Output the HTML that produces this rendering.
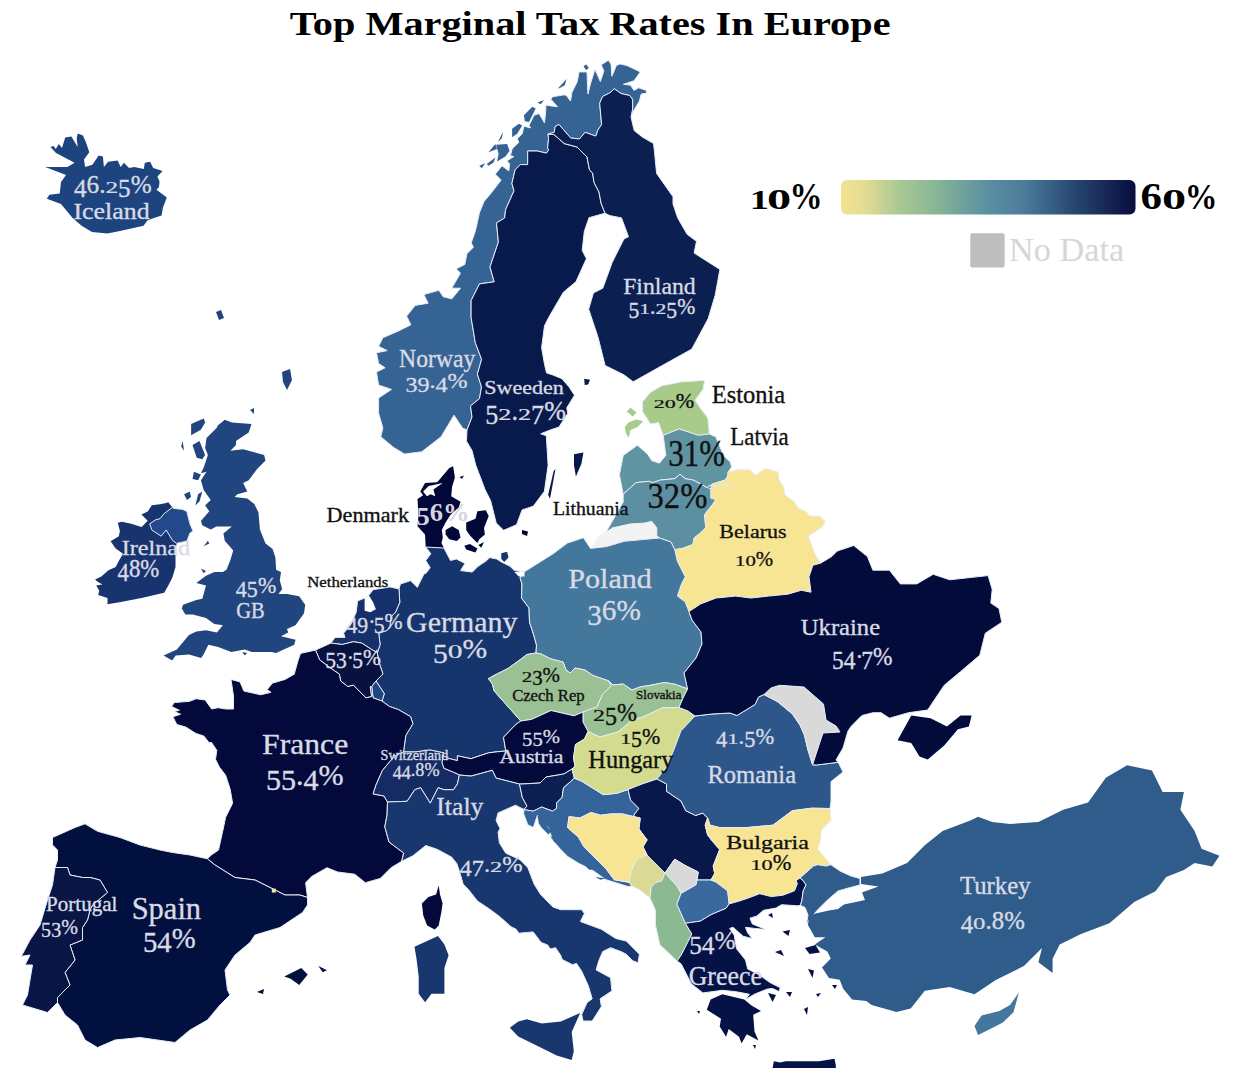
<!DOCTYPE html>
<html><head><meta charset="utf-8"><style>
html,body{margin:0;padding:0;background:#fff;}
svg{display:block;font-family:"Liberation Serif",serif;}
</style></head><body>
<svg width="1240" height="1068" viewBox="0 0 1240 1068">
<rect width="1240" height="1068" fill="#fff"/>

<defs><linearGradient id="g" x1="0" x2="1" y1="0" y2="0">
<stop offset="0" stop-color="#f4e28f"/>
<stop offset="0.08" stop-color="#e3dc92"/>
<stop offset="0.2" stop-color="#a9c894"/>
<stop offset="0.3" stop-color="#8dba95"/>
<stop offset="0.5" stop-color="#5a8fa2"/>
<stop offset="0.62" stop-color="#4c7c9b"/>
<stop offset="0.78" stop-color="#2a4a75"/>
<stop offset="1" stop-color="#080c3c"/>
</linearGradient></defs>
<rect x="841" y="180" width="294.5" height="34.5" rx="6" fill="url(#g)"/>
<rect x="970.3" y="233.2" width="34.3" height="34.3" rx="2" fill="#bebebe"/>


<polygon points="50.5,147 53.6,146 55.7,149.1 58.9,143.9 62,148.1 65.2,137.6 71.4,136.5 77.7,147 76.7,138.6 77.7,133.4 83,135.5 86.1,142.8 89.3,152.3 84,159.6 85.1,166.9 92.4,164.8 98.7,155.4 102.9,156.4 103.9,166.9 108.1,161.7 117.6,160.6 120.7,166.9 123.9,162.7 129.1,168 134.3,166.9 143.8,169 144.8,162.7 150.1,161.7 153.2,168 162.6,171.1 157.4,176.4 159.5,181.6 159,187 156.5,189.7 166.8,197.4 162.9,207.7 161.6,215.5 153.9,218 147.4,220.6 143.5,225.8 120,231 107.4,233.5 92,232 81.6,225.8 72.6,218 61,203.9 46.8,198.7 49.4,194.8 59.7,193.5 61,182 66,175 45.2,166.9 67.3,166.9 74.6,162.7 56,153" fill="#1d447f"/>
<polygon points="141.5,514.6 147.7,511.5 151.8,505.3 160,504.3 165.2,503.2 168.3,502.2 172.4,507.4 173.4,508.4 182.7,509.4 186.8,511.5 189.9,523.8 193,531 189.9,533.1 186.8,541.3 180.6,542.4 176.5,543.4 175.5,551.6 175.5,567.1 172.4,577.4 168.3,585.6 164.2,592.8 141.5,598 120.9,602.1 107.5,604.2 107.5,598 98.2,594.9 99.3,590.8 96.2,585.6 102.4,584.6 97.2,581.5 95.1,579.5 101.3,576.4 108.5,570.2 115.7,567.1 118.8,560.9 123,553.7 115.7,548.6 110.6,541.3 118.8,536.2 119.9,531 117.8,522.8 121.9,521.8 131.2,523.8 141.5,526.9 143.6,524.9 147.7,520.7" fill="#17346f"/>
<polygon points="172.4,507.4 173.4,508.4 182.7,509.4 186.8,511.5 189.9,523.8 193,531 189.9,533.1 186.8,541.3 180.6,542.4 176.5,543.4 172.4,540.3 166.2,530 161.1,536.2 151.8,530 149.7,523.8 155.9,519.7 160,518.7 164.2,513.5" fill="#24498a" stroke="#e6ecf7" stroke-width="1" stroke-linejoin="round"/>
<polygon points="224.8,419.8 231.8,422.6 251.5,424.1 248.7,432.5 236,440.9 236,445.1 230.4,450.7 243.1,449.3 264.1,455 265.5,460.6 257.1,469 248.7,480.3 243.1,483.1 247.3,491.5 237.4,494.3 234.6,497.1 247.3,498.5 254.3,504.1 258.5,512.6 259.9,529.4 265.5,543.5 272.6,549.1 275.4,557.5 276.1,569.7 281,572.1 279.8,580.6 282.2,589 278.5,593.9 287,593.9 299.1,596.3 305.2,604.8 304,613.2 295.5,625.3 287,629 288.2,632.6 281,636.2 295.5,639.8 294.3,644.7 276.1,653.1 271.3,651.9 251.9,651.9 244.7,649.5 231.4,651.9 218.1,647.1 208.4,644.7 203.5,654.4 201.1,658 189,654.4 175.7,655.6 172.1,660.4 163.6,655.6 176.9,649.5 189,635 196.3,631.4 206,630.2 216.9,632.6 222.9,625.3 214.4,624.1 206,618.1 192.7,614.4 185.4,614.4 181.8,608.4 183,604.8 196.3,599.9 202.3,598.7 206,585.4 196.3,583 206,575.7 214.4,572.1 222.9,572.1 226.5,569.7 230.4,560 233.2,550.5 224.8,540.7 223.4,533.6 231.8,526.6 216.4,526.6 210.7,529.4 202.3,525.2 200.9,521 209.3,511.2 205.1,505.5 210.7,499.9 203.7,490.1 200.9,480.3 206.5,471.8 200.9,473.2 203.7,467.6 207.9,455 205.1,447.9 206.5,438.1 216.4,428.3 217.8,425.5" fill="#21467f"/>
<polygon points="191.1,424.1 203.7,418.4 205.1,422.6 200.9,429.7 191.1,435.3" fill="#21467f"/>
<polygon points="181.2,446.5 182.6,440.9 184.1,450.7" fill="#21467f"/>
<polygon points="192.5,445.1 199.5,440.9 205.1,455 202.3,459.2 196.7,457.8" fill="#21467f"/>
<polygon points="193.9,471.8 200.9,474.6 198.1,480.3 192.5,478.9" fill="#21467f"/>
<polygon points="195.3,505.5 198.1,494.3 202.3,491.5 199.5,501.3" fill="#21467f"/>
<polygon points="184.1,494.3 189.7,491.5 191.1,497.1 186.9,499.9" fill="#21467f"/>
<polygon points="203.7,546.3 207.9,540.7 209.3,543.5" fill="#21467f"/>
<polygon points="201.1,568.5 206,570.9 203.5,573.3" fill="#21467f"/>
<polygon points="242.3,651.9 247.1,653.1 244.7,655.6" fill="#21467f"/>
<polygon points="282,372 290,369 292,380 287,390 283,382" fill="#21467f"/>
<polygon points="250,410 254,408 254,414" fill="#21467f"/>
<polygon points="216,312 221,310 224,318 219,320" fill="#21467f"/>
<polygon points="631,117 633,111.8 639.4,101.1 641.2,94 646.5,93.2 646.5,90.5 638.5,87.8 634.1,90.5 630.5,85.2 623.4,84.3 634.1,80.7 640.3,71.9 627,65.6 619.9,63.9 616.3,65.6 611.9,76.3 611,63.9 608.3,60.3 601.2,64.8 603.9,71 600.3,81.6 595,69.2 590.6,83.4 587.9,94 587,71.9 579,71.9 577.3,81.6 572,92.3 570.5,101 566,95 562.7,95.1 552.6,96.7 550.9,99.3 557.6,106.8 545.8,105.2 545.8,110.2 544.5,123 539.1,113.6 534,115.3 529,125.4 530.7,127.9 523.9,126.2 522.2,133.8 517.2,138.9 518.9,142.2 512.1,149 510.4,155.7 513.8,156.6 507.1,160.8 509.6,164.1 508.8,170.9 502,165.8 495.3,174.2 501.2,180 492,192 484,201.6 479.5,212.6 475.3,231.4 471.2,242.9 473.4,247.2 466.9,253.7 464.8,264.5 456.2,268.8 460.5,273.1 451.8,288.2 460.5,288.2 451.8,298.9 443.2,296.8 438.9,290.3 423.8,294.6 428.2,303.2 415.2,305.4 406.6,316.2 410.9,324.8 398,331.2 382.9,337.7 378.6,346.3 387.2,350.6 376.5,352.8 378.6,363.5 385.1,367.8 376.5,372.1 378.6,385.1 391.5,389.4 378.6,398 378.6,413.1 382.9,428.1 380.8,436.8 393.7,447.5 404.5,454 421.7,451.8 441.1,436.8 454,415.2 462.6,428.1 467,430 472,417 470.5,406 479.5,398.6 481.5,387 477.4,374 481.6,359.3 475.3,342.6 471.1,317.4 471.1,300.6 479.5,283.9 494.2,281.8 490,267 498.4,242 496.5,223 504.6,218 505.6,209.7 514,190.8 511.9,183.5 515.1,169.8 520.3,164.6 527.7,164.6 527.7,151 537.1,151 546.5,153.1 548.6,149.9 547.6,147.8 548.6,138.4 548,134 554.2,132.3 555.2,126.5 559,124.5 570.7,138 579.4,139 585.2,132.3 595.8,136.1 597.8,130.3 601.6,124.5 599.7,103.2 602.6,96.5 610.3,92.6 614.2,88.7 621,93.5 629.7,95.5 632.6,99.4 632.6,109 631,117" fill="#356394" stroke="#e6ecf7" stroke-width="1" stroke-linejoin="round"/>
<polygon points="523.9,115.3 532.3,106.8 535.7,108.5 529,122 524.8,121.2" fill="#356394"/>
<polygon points="512.1,128.8 518.9,123.7 522.2,125.4 517.2,133.8 512.1,137.2" fill="#356394"/>
<polygon points="497.8,142.2 502.9,132.1 502,138" fill="#356394"/>
<polygon points="488.5,152.3 495.3,143.9 497,149" fill="#356394"/>
<polygon points="496.1,144.8 507.1,143.9 509.6,150.7 505.4,156.6 497,161.6 498.6,154" fill="#356394"/>
<polygon points="479.3,165.8 485.2,163.3 481.8,168.3" fill="#356394"/>
<polygon points="486.8,164.1 495.3,157.4 493.6,162.5 488.5,165.8" fill="#356394"/>
<polygon points="537.4,102.6 544.1,100.1 540.8,104.3" fill="#356394"/>
<polygon points="583.5,66.5 586.1,64.3 588.8,67.9 586.1,70.1" fill="#356394"/>
<polygon points="557.7,88.7 566.6,79 564.8,85.2 560.4,87.8" fill="#356394"/>
<polygon points="605,213.2 589,217.7 584.3,231.4 582.2,250.3 586.4,258.7 575.9,281.8 563.4,292.2 548.7,317.4 544.5,325.8 541.6,347.7 544.5,364.2 546.5,372.9 552.3,374.8 556.1,376.3 561.9,378.7 568.7,386.5 574.5,395.2 566.8,407.8 567.7,413.6 561.9,422.3 559,427.1 550,430.1 540.7,433.8 546.3,435.7 548.1,465.3 544.4,491.3 533.3,506.2 522.1,509.9 516.6,524.7 503.6,530.3 496.2,522.9 490.6,500.6 485,489.5 475.8,465.3 472,450.5 466.5,441.2 467,430 472,417 470.5,406 479.5,398.6 481.5,387 477.4,374 481.6,359.3 475.3,342.6 471.1,317.4 471.1,300.6 479.5,283.9 494.2,281.8 490,267 498.4,242 496.5,223 504.6,218 505.6,209.7 514,190.8 511.9,183.5 515.1,169.8 520.3,164.6 527.7,164.6 527.7,151 537.1,151 546.5,153.1 548.6,149.9 547.6,147.8 548.6,138.4 548,134 554,134.5 564.3,143.6 577,147 587,157 589.5,170 592.6,173 594,182.4 599,192 601,203 605,213.2" fill="#081a4b" stroke="#e6ecf7" stroke-width="1" stroke-linejoin="round"/>
<polygon points="548,134 554,134.5 564.3,143.6 577,147 587,157 589.5,170 592.6,173 594,182.4 599,192 601,203 605,213.2 609.8,215.6 621.5,217.9 628.5,236.7 623.9,239 612.2,262.4 602.8,288.2 593.4,292.9 588.7,309.2 598.1,337.4 605.1,365.5 623.9,374.8 633.2,381.8 670.7,360.8 691.8,349.1 708.2,318.6 715.2,295.2 719.9,269.4 694.1,253 696.5,241.3 687.1,234.3 677.7,217.9 673,203.9 673,196.8 656.6,173.4 654.3,150 653.5,143.5 642.3,137 634.2,130.6 631,117 632.6,109 632.6,99.4 629.7,95.5 621,93.5 614.2,88.7 610.3,92.6 602.6,96.5 599.7,103.2 601.6,124.5 597.8,130.3 595.8,136.1 585.2,132.3 579.4,139 570.7,138 559,124.5 555.2,126.5 554.2,132.3 548,134" fill="#0c1f51" stroke="#e6ecf7" stroke-width="1" stroke-linejoin="round"/>
<polygon points="584.2,378.7 590,379.7 588.1,384.5 584.7,385" fill="#081a4b"/>
<polygon points="574,454.2 583.4,452.4 581.5,463.5 575.9,476.5 574,465.3" fill="#081a4b"/>
<polygon points="553.7,470.9 555.5,469 550,498.7 548.1,495" fill="#081a4b"/>
<polygon points="453.1,466.2 454.9,477.5 452.1,486.8 451.2,496.2 460.6,501.8 458.7,507.4 450.3,514.9 445.6,522.4 441.8,529.9 442.8,537.4 441.5,543 444,548 425.7,547 425,534.6 417.5,526.2 418.4,515.9 417.5,499 423.1,495.3 420.3,491.5 425,483.1 437.2,482.2 449.3,468.1" fill="#02073a"/>
<polygon points="445.6,529.9 452.1,526.2 458.7,529.9 460.6,537.4 456.8,541.1 449.3,539.3 445.6,534.6" fill="#02073a"/>
<polygon points="466.2,522.4 475.5,518.7 477.4,511.2 485.8,510.2 488.7,515.9 484,528 484.9,534.6 479.3,539.3 477.4,543 469.9,535.5 466.2,529.9" fill="#02073a"/>
<polygon points="464.3,545.8 469.9,544 477.4,548.6 475.5,552.4 466.2,549.6" fill="#02073a"/>
<polygon points="478.4,544.9 484,542.1 481.2,547.7" fill="#02073a"/>
<polygon points="459.5,477 464,475.5 462,479" fill="#02073a"/>
<polygon points="522,530 528,531.5 527,536 522,534" fill="#02073a"/>
<polygon points="423.1,491.5 428.7,485.9 442.8,483.1 433.4,489.6 435.3,496.2 430.6,494.3 426.9,496.2" fill="#fff"/>
<polygon points="642.5,401.8 650.5,392.3 661.7,385.9 680.8,381.9 704.6,380.4 703.1,389.1 695.1,400.3 701.5,409.8 707.8,417.8 709.4,434 698.3,435.3 679.2,428.9 663.2,435.3 658.5,422.5 650.5,424.1 642.5,411.4" fill="#a8cb8a" stroke="#e6ecf7" stroke-width="1" stroke-linejoin="round"/>
<polygon points="624.8,427.1 628.7,422.3 636.5,419.4 643.2,421.3 637.4,427.1 630.6,430 628.7,437.8 625.8,433" fill="#a8cb8a"/>
<polygon points="626.8,411.6 630.6,407.8 636.5,412.6 632.6,416.5" fill="#a8cb8a"/>
<polygon points="663.2,435.3 679.2,428.9 698.3,435.3 709.4,434 715.8,436.9 723.8,456 730.3,461.9 731.6,467.1 728.2,471.9 727.7,476.1 725.2,480 712.5,484 707.1,487.7 700.6,483.9 692.9,480 685.2,478.7 680,474.2 674.8,478.7 660.6,480 652.9,482.6 649,481.3 636.1,482.6 623.2,494.2 619.4,474.8 623.2,455.5 637.4,445.2 647.7,454.2 651.6,460.6 659.4,463.2 665.8,455.5 664.5,445" fill="#6194a1" stroke="#e6ecf7" stroke-width="1" stroke-linejoin="round"/>
<polygon points="623.2,494.2 636.1,482.6 649,481.3 652.9,482.6 660.6,480 674.8,478.7 680,474.2 685.2,478.7 692.9,480 700.6,483.9 707.1,487.7 712.5,484 711,489 711,498 716,499.4 713.5,503.2 704.5,514.8 705.8,527.7 702,531.6 694.2,538 692.9,544.5 682.6,548.4 674.8,549.7 671,542 659.4,538 612,528 630,524 645,523 651.6,521.3 656.8,527.7 656.8,535.5 659.4,538 624.2,541.3 606.5,546.6 601,541 623.2,502" fill="#5c8fa1" stroke="#e6ecf7" stroke-width="1" stroke-linejoin="round"/>
<polygon points="598,536 612,528 630,524 645,523 651.6,521.3 656.8,527.7 656.8,535.5 659.4,538 624.2,541.3 606.5,546.6 590.5,548.4" fill="#f3f3f4"/>
<polygon points="728.2,471.9 738.4,469.7 749.7,469.7 755.3,475.3 765.5,468.5 777.9,471.9 779,479.8 783.6,486.6 784.7,494.5 794.8,502.4 798.2,508.1 806.1,511.5 809.5,516 819.7,516 825.3,521.6 821.9,527.3 808.4,536.3 809,538 814.8,553.5 820.6,563.2 812.9,565.2 809,576.8 811,592.2 801.3,590.3 787.7,594.2 768.4,596.1 751,598 735.5,596.1 716.1,598 700.6,603.9 689,611.6 685.2,601.9 677.4,596.1 681.3,584.5 685.2,576.8 677.4,561.3 674.8,549.7 682.6,548.4 692.9,544.5 694.2,538 702,531.6 705.8,527.7 704.5,514.8 713.5,503.2 716,499.4 711,498 711,489 712.5,484 725.2,480 727.7,476.1" fill="#f8e594" stroke="#e6ecf7" stroke-width="1" stroke-linejoin="round"/>
<polygon points="425.7,547 444,548 450.5,560.5 456.3,559 465,563.4 460.6,570.6 472.3,572.1 478.1,566.3 486.8,560.5 489.7,557.6 496.9,559 501.3,561.9 510,566.3 514.4,570.6 524,572 520,578 522,584 521.5,598 529,608 529.5,622 534,636 536.5,645 536,653 527,654.5 520,659.8 508,668.5 495,675 488.5,678.6 492.4,684 494.2,691 508.4,707 520.8,721 515.5,724.7 503.5,737.3 505.8,751 496.1,751.9 488.4,752.9 471,758.7 457.4,755.8 457.4,760.6 449.7,758.7 443,756 443.9,752.9 430,750 415,752 403.5,751.8 405.8,735.4 412.9,723.7 410.5,716.6 398.4,709.6 389.5,706.5 382,701 384.3,693.6 381.5,689.4 376,681 382.9,674 378.7,661.3 377.3,652.9 380.1,644.5 378.7,633.2 387.1,630.4 389.9,626.2 391.3,616.4 395.5,612.2 399.8,602.3 399,589 400.4,584 410.5,580.7 417.3,587.4 424,573.9 425.8,573.5 430.2,567.7 425.8,560.5 430.8,553.7" fill="#16356d" stroke="#e6ecf7" stroke-width="1" stroke-linejoin="round"/>
<polygon points="501.3,553.2 507.1,551.8 508.5,557.6 504.2,561.9 501.3,559" fill="#16356d"/>
<polygon points="399,589 399.8,602.3 395.5,612.2 391.3,616.4 389.9,626.2 387.1,630.4 378.7,633.2 380.1,644.5 377.3,652.9 370.3,648.7 361.8,643.1 353.4,641.7 342.2,644.5 330.9,643.1 335.1,637.4 345,637.4 343.6,633.2 350.6,624.8 356.2,612.2 357.6,600.9 364.6,598.1 368.8,595.3 373.1,589.7 389.9,586.9" fill="#15306b" stroke="#e6ecf7" stroke-width="1" stroke-linejoin="round"/>
<polygon points="364.6,598.1 368.8,595.3 373.1,602.3 375.9,609.3 370.3,612.2 364.6,610.8" fill="#fff"/>
<polygon points="330.9,643.1 342.2,644.5 353.4,641.7 361.8,643.1 370.3,648.7 377.3,652.9 378.7,661.3 382.9,674 376,681 371.7,686.6 370.3,686.6 371.7,696.5 366,697.9 353.4,685.2 347.8,686.6 340.7,681 339.3,674 330.9,668.4 319.7,659.9 315.5,650.1" fill="#07123f" stroke="#e6ecf7" stroke-width="1" stroke-linejoin="round"/>
<polygon points="376,681 381.5,689.4 384.3,693.6 382,701 373.1,697.9 371.7,686.6" fill="#1f447f" stroke="#e6ecf7" stroke-width="1" stroke-linejoin="round"/>
<polygon points="315.5,650.1 319.7,659.9 330.9,668.4 339.3,674 340.7,681 347.8,686.6 353.4,685.2 366,697.9 371.7,696.5 370.3,686.6 371.7,686.6 373.1,697.9 382,701 389.5,706.5 398.4,709.6 410.5,716.6 412.9,723.7 405.8,735.4 403.5,751.8 394.1,756.4 382.4,770.5 376,785 373.1,793.9 384,796 387.5,802 387.1,815 384.8,826.7 389,842 403.7,853 401.7,861.3 391,867.7 380.3,878.4 365.4,882.7 354.7,874.2 337.6,872 327,867.7 312,876.3 305.6,882.7 307.5,897.5 300,895 285,895 270,887.5 255,880 235,877.5 215,865 207.5,858.8 211.5,854.8 218.5,850.1 223.2,829 225.6,817.3 232.6,803.3 230.2,789.2 225.6,775.2 219.4,767.1 215.5,759.4 216.8,750.3 211.6,742.6 209,742.6 203.9,736.1 196.1,733.5 185.8,727.1 176.8,724.5 172.9,716.8 180.6,714.2 174.2,711.6 179.4,710.3 171.6,706.5 174.2,702.6 189.7,701.3 196.1,698.7 205.2,700 211.6,709 218.1,707.7 225.8,709 233.5,709 233.5,696.1 231,679.4 240,681.9 243.9,691 260.6,694.8 271,692.3 267.1,689.7 272.3,683.2 285.2,679.4 294.2,674.2 298.1,660.4 300.5,653.4" fill="#030a3b" stroke="#e6ecf7" stroke-width="1" stroke-linejoin="round"/>
<polygon points="438.7,885.5 440,894.5 442.6,903.5 441.3,912.6 438.7,925.5 434.8,929.4 427.1,925.5 423.2,915.2 421.9,903.5 428.4,897.1 436.1,894.5" fill="#030a3b"/>
<polygon points="207.5,858.8 215,865 235,877.5 255,880 270,887.5 285,895 300,895 307.5,897.5 307.5,905 302.5,912.5 280,927.5 255,935 250,942.5 235,955 225,970 227.5,990 230,995 220,1005 207.5,1020 190,1030 175,1042.5 140,1037.5 115,1040 97.5,1047.5 85,1040 77.5,1025 65,1015 57.5,1002.5 57.5,997.5 70,985 65,972.5 75,960 70,945 82.5,940 82.5,927.5 87.5,920 90,910 92.5,905 107.5,892.5 100,880 90,877.5 82.5,877.5 70,875 67.5,867.5 55,867.5 57.5,860 57.5,850 52.5,845 52.5,837.5 75,827.5 85,823.8 97.5,831.3 120,837.5 140,845 160,850 172.5,852.5 190,855" fill="#02103f" stroke="#e6ecf7" stroke-width="1" stroke-linejoin="round"/>
<polygon points="55,867.5 67.5,867.5 70,875 82.5,877.5 90,877.5 100,880 107.5,892.5 92.5,905 90,910 87.5,920 82.5,927.5 82.5,940 70,945 75,960 65,972.5 70,985 57.5,997.5 57.5,1002.5 47.5,1012.5 22.5,1005 27.5,995 30,980 32.5,965 25,965 30,955 21.3,956.3 30,940 40,925 47.5,900 52.5,885" fill="#081545" stroke="#e6ecf7" stroke-width="1" stroke-linejoin="round"/>
<rect x="271.8" y="888.6" width="4" height="4" fill="#f2e3a6"/>
<polygon points="284.3,976.6 301.3,968.1 307.7,974.5 299.2,985.1 290.7,978.7" fill="#02103f"/>
<polygon points="318.4,966 327,970.2 322.7,972.3" fill="#02103f"/>
<polygon points="257,992 264,989 263,994" fill="#02103f"/>
<polygon points="524,572 553.2,553.7 567.4,543.1 583.4,537.7 590.5,548.4 606.5,546.6 624.2,541.3 659.4,538 671,542 674.8,549.7 677.4,561.3 685.2,576.8 681.3,584.5 677.4,596.1 685.2,601.9 689,611.6 692,620 701,632 702,644 696,658 684,673 687.6,689 676,684.5 664.5,682.5 652,685 640,687 632,690 623,684 613,685 609,681 593,675.5 585,670 575,668 570,673 566,670 563,662 551,659 541,654 536,653 536.5,645 534,636 529.5,622 529,608 521.5,598 522,584 520,578" fill="#43789c" stroke="#e6ecf7" stroke-width="1" stroke-linejoin="round"/>
<polygon points="514.4,572.1 524.5,572.1 524.5,576.5 518.7,576.5" fill="#fff"/>
<polygon points="536,653 541,654 551,659 563,662 566,670 570,673 575,668 585,670 593,675.5 609,681 611.3,685.6 602.4,694.5 597.1,706.9 583,712 574,715.8 551,710.5 531.5,719.4 520.8,721 508.4,707 494.2,691 492.4,684 488.5,678.6 495,675 508,668.5 520,659.8 527,654.5" fill="#9bc093" stroke="#e6ecf7" stroke-width="1" stroke-linejoin="round"/>
<polygon points="609,681 613,685 623,684 632,690 640,687 652,685 664.5,682.5 676,684.5 687.6,689 683,698 679,707.5 662,708 643,717 632.6,720 618,732 600,737 588,731.5 583,722 583,712 597.1,706.9 602.4,694.5 611.3,685.6" fill="#99c193" stroke="#e6ecf7" stroke-width="1" stroke-linejoin="round"/>
<polygon points="520.8,721 531.5,719.4 551,710.5 574,715.8 583,712 583,722 588,731.5 584.5,739 575.5,744.5 573.5,758 575,766 572,769 563.9,774 555,775.5 546,777 540,783 522,784 519.5,784 496.1,778.1 492.3,770.3 471,776.1 459.4,775 453.5,772.3 443.9,768.4 441.9,762.6 443,756 449.7,758.7 457.4,760.6 457.4,755.8 471,758.7 488.4,752.9 496.1,751.9 505.8,751 503.5,737.3 515.5,724.7" fill="#030a3b" stroke="#e6ecf7" stroke-width="1" stroke-linejoin="round"/>
<polygon points="403.5,751.8 415,752 430,750 443.9,752.9 443,756 441.9,762.6 443.9,768.4 453.5,772.3 459.4,775 457.4,783.9 453.5,789.7 443.9,789.7 438.1,787.7 430.3,803.2 420.6,787.7 414.8,789.7 407.1,801.3 387.5,802 384,796 373.1,793.9 376,785 382.4,770.5 394.1,756.4" fill="#142b63" stroke="#e6ecf7" stroke-width="1" stroke-linejoin="round"/>
<polygon points="387.5,802 407.1,801.3 414.8,789.7 420.6,787.7 430.3,803.2 438.1,787.7 443.9,789.7 453.5,789.7 457.4,783.9 459.4,775 471,776.1 492.3,770.3 496.1,778.1 519.5,784 522.3,797.4 527,806 524,809.5 515.5,805.2 498.1,812.9 496.1,820.6 500,828.4 498.1,832.3 499.4,842.9 505.8,853.2 520,859.7 527.7,867.4 534.2,884.2 540.6,894.5 552.9,907 560.8,909.7 581.7,909.7 584.4,913.6 580.4,921.5 601.4,929.3 615.8,938.5 626.3,941.1 639.4,954.2 638.1,962.7 632.8,960.8 626.3,954.2 621,951.6 610.6,947.7 602.7,951.6 598.8,960.8 596.1,969.9 610.6,977.8 611.9,990.9 600.1,998.8 601.4,1006.6 592.2,1021 583,1021 581.7,1014.5 587,1002.7 592.2,998.8 588.3,985.7 581.7,971.2 576.5,963.4 572.6,964.7 562.1,959.5 560.8,955.5 555.5,947.7 550.3,949 547.7,945 541.1,942.4 533.2,931.9 518.8,933.2 516.2,929.3 511,926.7 499.2,916.2 489,908.7 477.4,901 468.4,889.4 463.2,884.2 460.6,875.2 456.8,863.5 451.6,857.1 437.4,849.4 425.8,845.5 412.9,855.8 401.7,861.3 403.7,853 389,842 384.8,826.7 387.1,815" fill="#17376e" stroke="#e6ecf7" stroke-width="1" stroke-linejoin="round"/>
<polygon points="509.8,1027.8 518.3,1021.4 526.8,1019.3 541.8,1023.6 561,1021.4 580.2,1012.9 571.7,1032.1 573.8,1051.3 571.7,1059.9 556.7,1055.6 539.6,1047 518.3,1036.4" fill="#17376e"/>
<polygon points="414.5,946.7 438,936 444.4,944.6 448.6,955.3 444.4,968.1 444.4,993.7 431.5,993.7 425.1,1002.2 418.7,993.7 418.7,976.6 416.6,959.5" fill="#17376e"/>
<polygon points="519.5,784 522,784 540,783 546,777 555,775.5 563.9,774 572,769 574.4,778.2 563.5,787.8 562.1,797.4 556.6,802.9 556.6,808.4 552.5,811.1 541.5,807 533.3,811.1 525.1,809.8 524,809.5 527,806 522.3,797.4" fill="#0c1f52" stroke="#e6ecf7" stroke-width="1" stroke-linejoin="round"/>
<polygon points="574.4,778.2 581.3,781 592.3,787.8 603.2,794.7 616.9,793.3 628,789.5 630.6,800.2 638.9,808.4 634.8,813.9 633.4,816.6 622.4,813.9 611.5,813.9 600.5,815.2 590.9,812.5 579.9,818 569,816.6 567.6,827.6 578.5,837.2 584,846.8 595,857.7 606,868.7 614.2,879.7 629.3,882.4 632,886 627.9,886.5 606,879.7 592.3,870.1 578.5,863.2 567.6,856.4 559.4,848.1 552.5,839.9 548.4,827.6 541.5,820.7 537.4,815.2 533.3,827.6 527.8,824.8 523.7,813.9 524,809.5 525.1,809.8 533.3,811.1 541.5,807 552.5,811.1 556.6,808.4 556.6,802.9 562.1,797.4 563.5,787.8" fill="#35649a" stroke="#e6ecf7" stroke-width="1" stroke-linejoin="round"/>
<polygon points="537.4,815.2 542.9,819.4 551.1,831.7 548.4,834.4 541.5,827.6 538.8,823.5" fill="#35649a"/>
<polygon points="549.8,835.8 555.2,842.7 560.7,844 553.9,838.5" fill="#35649a"/>
<polygon points="585.4,866 595,868.7 589.5,870.1" fill="#35649a"/>
<polygon points="595,876.9 606,878.3 600.5,879.7" fill="#35649a"/>
<polygon points="588,731.5 600,737 618,732 632.6,720 643,717 662,708 679,707.5 688,711 695,716 681,730.8 673.7,750.2 666.5,767.1 657,779 642,784 628,789.5 616.9,793.3 603.2,794.7 592.3,787.8 581.3,781 574.4,778.2 572,769 575,766 573.5,758 575.5,744.5 584.5,739" fill="#d3dc8e" stroke="#e6ecf7" stroke-width="1" stroke-linejoin="round"/>
<polygon points="628,789.5 642,784 657,779 666.5,784 666.5,791.3 681,801 685.8,810.7 695.5,815.5 702.8,813.1 707.6,818 705.2,825.2 707.6,834.9 713,842 719.7,849.4 713.2,866.1 714.7,873.4 711,880 697,880 698.2,872 685.4,865.6 674.7,859.2 665,873 655.5,863.5 647,855 643,846.8 647.1,839.9 638.9,829 640.2,818 633.4,816.6 634.8,813.9 638.9,808.4 630.6,800.2" fill="#08184b" stroke="#e6ecf7" stroke-width="1" stroke-linejoin="round"/>
<polygon points="569,816.6 579.9,818 590.9,812.5 600.5,815.2 611.5,813.9 622.4,813.9 633.4,816.6 640.2,818 638.9,829 647.1,839.9 643,846.8 647,855 637.5,859.1 633.4,866 630.6,874.2 629.3,882.4 614.2,879.7 606,868.7 595,857.7 584,846.8 578.5,837.2 567.6,827.6" fill="#f8e594" stroke="#e6ecf7" stroke-width="1" stroke-linejoin="round"/>
<polygon points="647,855 655.5,863.5 665,873 661.9,880.6 655.5,882.7 651.2,887 650,898 640,890 632,886 629.3,882.4 630.6,874.2 633.4,866 637.5,859.1" fill="#dad996" stroke="#e6ecf7" stroke-width="1" stroke-linejoin="round"/>
<polygon points="665,873 674.7,859.2 685.4,865.6 698.2,872 697,880 696.1,884.8 681.1,893.4 676.9,886" fill="#d9d9d9" stroke="#e6ecf7" stroke-width="1" stroke-linejoin="round"/>
<polygon points="650,898 651.2,887 655.5,882.7 661.9,880.6 665,873 676.9,886 681.1,893.4 676.9,904.1 685.4,923.3 691.8,934 687.6,942.5 681.1,955.3 677,961 659.8,944.6 655.5,925.4 655.5,910.5" fill="#8bb992" stroke="#e6ecf7" stroke-width="1" stroke-linejoin="round"/>
<polygon points="681.1,893.4 696.1,884.8 697,880 711,880 716.1,882.1 727.7,890.8 729.2,903.9 726,908.3 711,914.7 700.4,921.1 685.4,923.3 676.9,904.1" fill="#3a6a9d" stroke="#e6ecf7" stroke-width="1" stroke-linejoin="round"/>
<polygon points="695,716 712,714 730,713 737,715.5 755,704.5 758.5,697 764,694.5 777.8,701.8 792.3,713.9 800,725 804.4,735 808,750 812.6,764.8 816.5,765 838.2,762.3 843,772 831,781.6 831,801 830,808.5 811.6,808.2 792.3,810.7 772.9,825.2 746.3,827.6 719.7,827.6 710,825.2 707.6,818 702.8,813.1 695.5,815.5 685.8,810.7 681,801 666.5,791.3 666.5,784 657,779 666.5,767.1 673.7,750.2 681,730.8" fill="#2d578a" stroke="#e6ecf7" stroke-width="1" stroke-linejoin="round"/>
<polygon points="764,694.5 771,688 779.7,685.3 804,687 812,694 823.5,704 826,720 836,726 840,732 823,733 818,748 812.6,764.8 808,750 804.4,735 800,725 792.3,713.9 777.8,701.8" fill="#d9d9d9" stroke="#e6ecf7" stroke-width="1" stroke-linejoin="round"/>
<polygon points="707.6,818 710,825.2 719.7,827.6 746.3,827.6 772.9,825.2 792.3,810.7 811.6,808.2 830,808.5 831,820.3 821.3,830 820.6,840 817.7,848.7 823.5,856 830.8,864.7 826.4,866.1 817.7,864.7 813.4,866.1 800,878 796,880.6 797.4,883.5 794.5,890.8 782.9,895.2 771.3,896.6 759.7,893.7 748.1,898.1 739.4,901 729.2,903.9 727.7,890.8 716.1,882.1 711,880 714.7,873.4 713.2,866.1 719.7,849.4 713,842 707.6,834.9 705.2,825.2" fill="#f8e594" stroke="#e6ecf7" stroke-width="1" stroke-linejoin="round"/>
<polygon points="685.4,923.3 700.4,921.1 711,914.7 726,908.3 729.2,903.9 739.4,901 748.1,898.1 759.7,893.7 771.3,896.6 782.9,895.2 794.5,890.8 797.4,883.5 796,880.6 800,878 803.2,880.6 806.1,885 803.2,890.8 801.8,901 800.3,905.3 797.4,905.8 781.6,904.7 776,908.1 763.5,910.3 756.8,916 750,918.2 752.3,923.9 765.8,929.5 754.5,928.4 745.5,927.3 747.7,932.9 752.3,938.5 743.2,936.3 733.1,927.3 729.7,928.4 734.2,935.2 736.5,948.7 745.5,960 747.7,969 759,974.7 770,982.6 780.3,987.7 779,991.6 772.6,988.5 767.4,989 754.5,994.2 745.5,999.4 749.4,994.2 735.2,991.6 722.3,990.3 702.9,992.9 691.3,983.7 681.1,963.8 677,961 681.1,955.3 687.6,942.5 691.8,934" fill="#051245" stroke="#e6ecf7" stroke-width="1" stroke-linejoin="round"/>
<polygon points="805,948 815.5,945 820,952.4 809.5,954" fill="#051245"/>
<polygon points="808,969 814,970.4 812.5,978" fill="#051245"/>
<polygon points="782.5,931.4 790,930 788.5,936" fill="#051245"/>
<polygon points="706.8,1009.7 710.6,999.4 722.3,994.2 744.2,999.4 751.9,1005.8 761,1011 753.2,1014.8 754.5,1031.6 758.4,1040.6 746.8,1034.2 741.6,1043.2 739,1036.8 728.7,1029 726.1,1036.8 719.7,1026.5 721,1018.7" fill="#051245"/>
<polygon points="773.9,1061.3 780.3,1062.6 785.5,1061.3 819,1061.3 834.5,1058.7 835.8,1065.2 835.8,1068 772.6,1068" fill="#051245"/>
<polygon points="772.6,1001.9 768,993 776,995" fill="#051245"/>
<polygon points="804,1009 808,1007 807,1015" fill="#051245"/>
<polygon points="786,992 792,992 790,997" fill="#051245"/>
<polygon points="832,985 837,985 835,989" fill="#051245"/>
<polygon points="816,994 821,993 818,997" fill="#051245"/>
<polygon points="697,1011 700,1011 699,1014" fill="#051245"/>
<polygon points="753,1045 756,1045 755,1049" fill="#051245"/>
<polygon points="775,952 781,950 784,956" fill="#051245"/>
<polygon points="768,915 772,913 773,918" fill="#051245"/>
<polygon points="689,611.6 700.6,603.9 716.1,598 735.5,596.1 751,598 768.4,596.1 787.7,594.2 801.3,590.3 811,592.2 809,576.8 812.9,565.2 820.6,563.2 831.8,556.5 837.3,551 853.7,545.5 867.4,556.5 872.9,570.2 889.4,570.2 900.3,583.9 916.8,583.9 933.2,574.3 949.7,579.8 988.1,575.6 992.2,589.4 990.8,603.1 999,608.5 1001.8,622.3 985.3,633.2 979.8,655.2 960.6,671.6 944.2,685.3 938.7,693.5 927.7,710 908.5,712.7 889.4,718.2 881.1,712.7 872.9,712.7 861.9,715.5 851,726.5 848,731 843,748 836,760 838.2,762.3 816.5,765 812.6,764.8 818,748 823,733 840,732 836,726 826,720 823.5,704 812,694 804,687 779.7,685.3 771,688 764,694.5 758.5,697 755,704.5 737,715.5 730,713 712,714 695,716 688,711 679,707.5 683,698 687.6,689 684,673 696,658 702,644 701,632 692,620" fill="#030b3b" stroke="#e6ecf7" stroke-width="1" stroke-linejoin="round"/>
<polygon points="897.6,740.2 911.3,715.5 930.5,718.2 946.9,726.5 960.6,715.5 971.6,715.5 968.9,726.5 957.9,729.2 944.2,745.6 927.7,759.4 919.5,756.6 911.3,742.9" fill="#030b3b"/>
<polygon points="800,878 813.4,866.1 817.7,864.7 826.4,866.1 830.8,864.7 840,871 851,876 860,878.5 860,885 848.4,888 838,891 827.5,900 817,910.5 809.5,919.4 806.5,924 808,915 805,907.5 800.3,905.3 801.8,901 803.2,890.8 806.1,885 803.2,880.6" fill="#305c8c" stroke="#e6ecf7" stroke-width="1" stroke-linejoin="round"/>
<polygon points="861,877.1 882.3,873.6 907.1,862.9 924.8,845.2 942.6,831 971,820.3 978.1,816.8 992.3,822.1 1010,823.9 1038.4,822.1 1063.2,809.7 1088.1,802.6 1105.8,777.7 1127.1,765.3 1152,770.6 1162.6,791.9 1183.9,791.9 1180.4,809.7 1194.6,831 1201.6,848.7 1219.4,855.8 1212.3,866.5 1194.6,862.9 1183.9,870 1166.2,877.1 1155.5,891.3 1134.2,902 1109.4,923.2 1081,933.9 1059.7,944.5 1052.6,958.7 1052.6,972.9 1038.4,962.3 1042,948.1 1024.2,965.8 995.8,980 974.5,994.2 949.7,987.1 924.8,990.7 910.7,1008.4 896.5,1012 871.6,1004.9 866.3,1001.1 852.1,999.4 843.2,988.7 839.7,979.8 829,978.1 822,967.4 830.8,958.6 827.3,951.5 814.8,944.4 825.5,937.3 814.8,937.3 807.8,924.8 809.5,916 815.5,913.5 829,910.5 838,909 844,904.5 865,900 862,892.5 878.4,886.5 861,884" fill="#305c8c"/>
<polygon points="974.5,1026.1 981.6,1015.5 999.4,1011 1010,1004.9 1018.9,992.4 1013.6,1012 1002.9,1022.6 988.7,1029.7 978.1,1035" fill="#44779e"/>
<g transform="translate(74.00,192.65) scale(0.2521,0.2500)" fill="#d8dae4" stroke="#d8dae4" stroke-width="1.39"><text transform="translate(0.0,16)" font-size="100" font-weight="normal">4</text><text transform="translate(50.0,0)" font-size="100" font-weight="normal">6</text><text transform="translate(100.0,0)" font-size="100" font-weight="normal">.</text><text transform="translate(125.0,0) scale(1,0.64)" font-size="100" font-weight="normal">2</text><text transform="translate(175.0,16)" font-size="100" font-weight="normal">5</text><text transform="translate(225.0,0)" font-size="100" font-weight="normal">%</text></g>
<g transform="translate(73.46,218.70) scale(0.2592,0.2333)" fill="#d8dae4" stroke="#d8dae4" stroke-width="1.42"><text x="0" y="0" font-size="100" font-weight="normal">Iceland</text></g>
<g transform="translate(399.09,366.70) scale(0.2367,0.2415)" fill="#d8dae4" stroke="#d8dae4" stroke-width="1.46"><text x="0" y="0" font-size="100" font-weight="normal">Norway</text></g>
<g transform="translate(405.39,388.44) scale(0.2412,0.2037)" fill="#d8dae4" stroke="#d8dae4" stroke-width="1.58"><text transform="translate(0.0,16)" font-size="100" font-weight="normal">3</text><text transform="translate(50.0,16)" font-size="100" font-weight="normal">9</text><text transform="translate(100.0,0)" font-size="100" font-weight="normal">.</text><text transform="translate(125.0,16)" font-size="100" font-weight="normal">4</text><text transform="translate(175.0,0)" font-size="100" font-weight="normal">%</text></g>
<g transform="translate(484.26,393.90) scale(0.2205,0.1971)" fill="#d8dae4" stroke="#d8dae4" stroke-width="1.68"><text x="0" y="0" font-size="100" font-weight="normal">Sweeden</text></g>
<g transform="translate(485.23,420.00) scale(0.2619,0.2707)" fill="#d8dae4" stroke="#d8dae4" stroke-width="1.31"><text transform="translate(0.0,16)" font-size="100" font-weight="normal">5</text><text transform="translate(50.0,0) scale(1,0.64)" font-size="100" font-weight="normal">2</text><text transform="translate(100.0,0)" font-size="100" font-weight="normal">.</text><text transform="translate(125.0,0) scale(1,0.64)" font-size="100" font-weight="normal">2</text><text transform="translate(175.0,16)" font-size="100" font-weight="normal">7</text><text transform="translate(225.0,0)" font-size="100" font-weight="normal">%</text></g>
<g transform="translate(623.19,294.00) scale(0.2372,0.2203)" fill="#d8dae4" stroke="#d8dae4" stroke-width="1.53"><text x="0" y="0" font-size="100" font-weight="normal">Finland</text></g>
<g transform="translate(628.40,313.98) scale(0.2167,0.2305)" fill="#d8dae4" stroke="#d8dae4" stroke-width="1.57"><text transform="translate(0.0,16)" font-size="100" font-weight="normal">5</text><text transform="translate(50.0,0) scale(1,0.64)" font-size="100" font-weight="normal">1</text><text transform="translate(100.0,0)" font-size="100" font-weight="normal">.</text><text transform="translate(125.0,0) scale(1,0.64)" font-size="100" font-weight="normal">2</text><text transform="translate(175.0,16)" font-size="100" font-weight="normal">5</text><text transform="translate(225.0,0)" font-size="100" font-weight="normal">%</text></g>
<g transform="translate(653.72,407.68) scale(0.2210,0.2090)" fill="#111111" stroke="#111111" stroke-width="1.63"><text transform="translate(0.0,0) scale(1,0.64)" font-size="100" font-weight="normal">2</text><text transform="translate(50.0,0) scale(1,0.64)" font-size="100" font-weight="normal">0</text><text transform="translate(100.0,0)" font-size="100" font-weight="normal">%</text></g>
<g transform="translate(711.77,402.50) scale(0.2449,0.2538)" fill="#111111" stroke="#111111" stroke-width="1.40"><text x="0" y="0" font-size="100" font-weight="normal">Estonia</text></g>
<g transform="translate(730.31,445.00) scale(0.2291,0.2538)" fill="#111111" stroke="#111111" stroke-width="1.45"><text x="0" y="0" font-size="100" font-weight="normal">Latvia</text></g>
<g transform="translate(668.25,465.50) scale(0.3091,0.3833)" fill="#111111" stroke="#111111" stroke-width="1.02"><text x="0" y="0" font-size="100" font-weight="normal">31%</text></g>
<g transform="translate(647.47,508.00) scale(0.3269,0.3585)" fill="#111111" stroke="#111111" stroke-width="1.02"><text x="0" y="0" font-size="100" font-weight="normal">32%</text></g>
<g transform="translate(552.91,515.00) scale(0.1976,0.1942)" fill="#111111" stroke="#111111" stroke-width="1.79"><text x="0" y="0" font-size="100" font-weight="normal">Lithuania</text></g>
<g transform="translate(719.34,538.00) scale(0.2201,0.1957)" fill="#111111" stroke="#111111" stroke-width="1.69"><text x="0" y="0" font-size="100" font-weight="normal">Belarus</text></g>
<g transform="translate(735.03,566.47) scale(0.2082,0.2149)" fill="#111111" stroke="#111111" stroke-width="1.65"><text transform="translate(0.0,0) scale(1,0.64)" font-size="100" font-weight="normal">1</text><text transform="translate(50.0,0) scale(1,0.64)" font-size="100" font-weight="normal">0</text><text transform="translate(100.0,0)" font-size="100" font-weight="normal">%</text></g>
<g transform="translate(800.81,634.80) scale(0.2464,0.2290)" fill="#d8dae4" stroke="#d8dae4" stroke-width="1.47"><text x="0" y="0" font-size="100" font-weight="normal">Ukraine</text></g>
<g transform="translate(832.10,664.97) scale(0.2341,0.2427)" fill="#d8dae4" stroke="#d8dae4" stroke-width="1.47"><text transform="translate(0.0,16)" font-size="100" font-weight="normal">5</text><text transform="translate(50.0,16)" font-size="100" font-weight="normal">4</text><text transform="translate(100.0,0)" font-size="100" font-weight="normal">·</text><text transform="translate(125.0,16)" font-size="100" font-weight="normal">7</text><text transform="translate(175.0,0)" font-size="100" font-weight="normal">%</text></g>
<g transform="translate(568.30,588.30) scale(0.3011,0.2826)" fill="#d8dae4" stroke="#d8dae4" stroke-width="1.20"><text x="0" y="0" font-size="100" font-weight="normal">Poland</text></g>
<g transform="translate(587.14,619.92) scale(0.2926,0.3049)" fill="#d8dae4" stroke="#d8dae4" stroke-width="1.17"><text transform="translate(0.0,16)" font-size="100" font-weight="normal">3</text><text transform="translate(50.0,0)" font-size="100" font-weight="normal">6</text><text transform="translate(100.0,0)" font-size="100" font-weight="normal">%</text></g>
<g transform="translate(406.00,632.10) scale(0.2997,0.2908)" fill="#d8dae4" stroke="#d8dae4" stroke-width="1.19"><text x="0" y="0" font-size="100" font-weight="normal">Germany</text></g>
<g transform="translate(432.92,658.49) scale(0.2960,0.2829)" fill="#d8dae4" stroke="#d8dae4" stroke-width="1.21"><text transform="translate(0.0,16)" font-size="100" font-weight="normal">5</text><text transform="translate(50.0,0) scale(1,0.64)" font-size="100" font-weight="normal">0</text><text transform="translate(100.0,0)" font-size="100" font-weight="normal">%</text></g>
<g transform="translate(307.20,586.60) scale(0.1679,0.1493)" fill="#111111" stroke="#111111" stroke-width="2.21"><text x="0" y="0" font-size="100" font-weight="normal">Netherlands</text></g>
<g transform="translate(346.46,628.90) scale(0.2178,0.2293)" fill="#d8dae4" stroke="#d8dae4" stroke-width="1.57"><text transform="translate(0.0,16)" font-size="100" font-weight="normal">4</text><text transform="translate(50.0,16)" font-size="100" font-weight="normal">9</text><text transform="translate(100.0,0)" font-size="100" font-weight="normal">·</text><text transform="translate(125.0,16)" font-size="100" font-weight="normal">5</text><text transform="translate(175.0,0)" font-size="100" font-weight="normal">%</text></g>
<g transform="translate(325.21,664.63) scale(0.2157,0.2220)" fill="#d8dae4" stroke="#d8dae4" stroke-width="1.60"><text transform="translate(0.0,16)" font-size="100" font-weight="normal">5</text><text transform="translate(50.0,16)" font-size="100" font-weight="normal">3</text><text transform="translate(100.0,0)" font-size="100" font-weight="normal">·</text><text transform="translate(125.0,16)" font-size="100" font-weight="normal">5</text><text transform="translate(175.0,0)" font-size="100" font-weight="normal">%</text></g>
<g transform="translate(262.05,754.10) scale(0.3169,0.2877)" fill="#d8dae4" stroke="#d8dae4" stroke-width="1.16"><text x="0" y="0" font-size="100" font-weight="normal">France</text></g>
<g transform="translate(265.89,784.96) scale(0.3012,0.3024)" fill="#d8dae4" stroke="#d8dae4" stroke-width="1.16"><text transform="translate(0.0,16)" font-size="100" font-weight="normal">5</text><text transform="translate(50.0,16)" font-size="100" font-weight="normal">5</text><text transform="translate(100.0,0)" font-size="100" font-weight="normal">.</text><text transform="translate(125.0,16)" font-size="100" font-weight="normal">4</text><text transform="translate(175.0,0)" font-size="100" font-weight="normal">%</text></g>
<g transform="translate(380.51,759.90) scale(0.1419,0.1391)" fill="#d8dae4" stroke="#d8dae4" stroke-width="2.49"><text x="0" y="0" font-size="100" font-weight="normal">Switzerland</text></g>
<g transform="translate(392.64,775.74) scale(0.1818,0.1790)" fill="#d8dae4" stroke="#d8dae4" stroke-width="1.94"><text transform="translate(0.0,16)" font-size="100" font-weight="normal">4</text><text transform="translate(50.0,16)" font-size="100" font-weight="normal">4</text><text transform="translate(100.0,0)" font-size="100" font-weight="normal">.</text><text transform="translate(125.0,0)" font-size="100" font-weight="normal">8</text><text transform="translate(175.0,0)" font-size="100" font-weight="normal">%</text></g>
<g transform="translate(499.28,763.30) scale(0.2178,0.1864)" fill="#d8dae4" stroke="#d8dae4" stroke-width="1.74"><text x="0" y="0" font-size="100" font-weight="normal">Austria</text></g>
<g transform="translate(522.06,743.16) scale(0.2069,0.1963)" fill="#d8dae4" stroke="#d8dae4" stroke-width="1.74"><text transform="translate(0.0,16)" font-size="100" font-weight="normal">5</text><text transform="translate(50.0,16)" font-size="100" font-weight="normal">5</text><text transform="translate(100.0,0)" font-size="100" font-weight="normal">%</text></g>
<g transform="translate(436.17,814.90) scale(0.2587,0.2449)" fill="#d8dae4" stroke="#d8dae4" stroke-width="1.39"><text x="0" y="0" font-size="100" font-weight="normal">Italy</text></g>
<g transform="translate(459.41,871.77) scale(0.2447,0.2333)" fill="#d8dae4" stroke="#d8dae4" stroke-width="1.46"><text transform="translate(0.0,16)" font-size="100" font-weight="normal">4</text><text transform="translate(50.0,16)" font-size="100" font-weight="normal">7</text><text transform="translate(100.0,0)" font-size="100" font-weight="normal">.</text><text transform="translate(125.0,0) scale(1,0.64)" font-size="100" font-weight="normal">2</text><text transform="translate(175.0,0)" font-size="100" font-weight="normal">%</text></g>
<g transform="translate(521.77,681.75) scale(0.2085,0.2146)" fill="#111111" stroke="#111111" stroke-width="1.65"><text transform="translate(0.0,0) scale(1,0.64)" font-size="100" font-weight="normal">2</text><text transform="translate(50.0,16)" font-size="100" font-weight="normal">3</text><text transform="translate(100.0,0)" font-size="100" font-weight="normal">%</text></g>
<g transform="translate(512.13,700.90) scale(0.1664,0.1638)" fill="#111111" stroke="#111111" stroke-width="2.12"><text x="0" y="0" font-size="100" font-weight="normal">Czech Rep</text></g>
<g transform="translate(636.09,698.80) scale(0.1298,0.1232)" fill="#111111" stroke="#111111" stroke-width="2.77"><text x="0" y="0" font-size="100" font-weight="normal">Slovakia</text></g>
<g transform="translate(592.94,720.67) scale(0.2403,0.2488)" fill="#111111" stroke="#111111" stroke-width="1.43"><text transform="translate(0.0,0) scale(1,0.64)" font-size="100" font-weight="normal">2</text><text transform="translate(50.0,16)" font-size="100" font-weight="normal">5</text><text transform="translate(100.0,0)" font-size="100" font-weight="normal">%</text></g>
<g transform="translate(620.13,743.54) scale(0.2187,0.2329)" fill="#111111" stroke="#111111" stroke-width="1.55"><text transform="translate(0.0,0) scale(1,0.64)" font-size="100" font-weight="normal">1</text><text transform="translate(50.0,16)" font-size="100" font-weight="normal">5</text><text transform="translate(100.0,0)" font-size="100" font-weight="normal">%</text></g>
<g transform="translate(588.37,768.20) scale(0.2429,0.2462)" fill="#111111" stroke="#111111" stroke-width="1.43"><text x="0" y="0" font-size="100" font-weight="normal">Hungary</text></g>
<g transform="translate(716.05,743.66) scale(0.2249,0.2378)" fill="#d8dae4" stroke="#d8dae4" stroke-width="1.51"><text transform="translate(0.0,16)" font-size="100" font-weight="normal">4</text><text transform="translate(50.0,0) scale(1,0.64)" font-size="100" font-weight="normal">1</text><text transform="translate(100.0,0)" font-size="100" font-weight="normal">.</text><text transform="translate(125.0,16)" font-size="100" font-weight="normal">5</text><text transform="translate(175.0,0)" font-size="100" font-weight="normal">%</text></g>
<g transform="translate(707.46,782.90) scale(0.2454,0.2538)" fill="#d8dae4" stroke="#d8dae4" stroke-width="1.40"><text x="0" y="0" font-size="100" font-weight="normal">Romania</text></g>
<g transform="translate(726.28,848.80) scale(0.2400,0.1957)" fill="#111111" stroke="#111111" stroke-width="1.62"><text x="0" y="0" font-size="100" font-weight="normal">Bulgaria</text></g>
<g transform="translate(750.39,870.05) scale(0.2234,0.2239)" fill="#111111" stroke="#111111" stroke-width="1.57"><text transform="translate(0.0,0) scale(1,0.64)" font-size="100" font-weight="normal">1</text><text transform="translate(50.0,0) scale(1,0.64)" font-size="100" font-weight="normal">0</text><text transform="translate(100.0,0)" font-size="100" font-weight="normal">%</text></g>
<g transform="translate(689.18,949.47) scale(0.2534,0.2549)" fill="#d8dae4" stroke="#d8dae4" stroke-width="1.38"><text transform="translate(0.0,16)" font-size="100" font-weight="normal">5</text><text transform="translate(50.0,16)" font-size="100" font-weight="normal">4</text><text transform="translate(100.0,0)" font-size="100" font-weight="normal">%</text></g>
<g transform="translate(688.66,985.20) scale(0.2591,0.2631)" fill="#d8dae4" stroke="#d8dae4" stroke-width="1.34"><text x="0" y="0" font-size="100" font-weight="normal">Greece</text></g>
<g transform="translate(960.00,894.00) scale(0.2477,0.2420)" fill="#d8dae4" stroke="#d8dae4" stroke-width="1.43"><text x="0" y="0" font-size="100" font-weight="normal">Turkey</text></g>
<g transform="translate(960.70,928.85) scale(0.2482,0.2469)" fill="#d8dae4" stroke="#d8dae4" stroke-width="1.41"><text transform="translate(0.0,16)" font-size="100" font-weight="normal">4</text><text transform="translate(50.0,0) scale(1,0.64)" font-size="100" font-weight="normal">0</text><text transform="translate(100.0,0)" font-size="100" font-weight="normal">.</text><text transform="translate(125.0,0)" font-size="100" font-weight="normal">8</text><text transform="translate(175.0,0)" font-size="100" font-weight="normal">%</text></g>
<g transform="translate(131.66,918.50) scale(0.3050,0.3138)" fill="#d8dae4" stroke="#d8dae4" stroke-width="1.13"><text x="0" y="0" font-size="100" font-weight="normal">Spain</text></g>
<g transform="translate(142.97,947.62) scale(0.2879,0.2927)" fill="#d8dae4" stroke="#d8dae4" stroke-width="1.21"><text transform="translate(0.0,16)" font-size="100" font-weight="normal">5</text><text transform="translate(50.0,16)" font-size="100" font-weight="normal">4</text><text transform="translate(100.0,0)" font-size="100" font-weight="normal">%</text></g>
<g transform="translate(46.07,911.20) scale(0.2108,0.2000)" fill="#d8dae4" stroke="#d8dae4" stroke-width="1.70"><text x="0" y="0" font-size="100" font-weight="normal">Portugal</text></g>
<g transform="translate(41.10,933.84) scale(0.2006,0.2037)" fill="#d8dae4" stroke="#d8dae4" stroke-width="1.73"><text transform="translate(0.0,16)" font-size="100" font-weight="normal">5</text><text transform="translate(50.0,16)" font-size="100" font-weight="normal">3</text><text transform="translate(100.0,0)" font-size="100" font-weight="normal">%</text></g>
<g transform="translate(235.86,593.48) scale(0.2202,0.2305)" fill="#d8dae4" stroke="#d8dae4" stroke-width="1.55"><text transform="translate(0.0,16)" font-size="100" font-weight="normal">4</text><text transform="translate(50.0,16)" font-size="100" font-weight="normal">5</text><text transform="translate(100.0,0)" font-size="100" font-weight="normal">%</text></g>
<g transform="translate(236.18,618.20) scale(0.2054,0.2246)" fill="#d8dae4" stroke="#d8dae4" stroke-width="1.63"><text x="0" y="0" font-size="100" font-weight="normal">GB</text></g>
<g transform="translate(121.63,555.20) scale(0.2424,0.2043)" fill="#d8dae4" stroke="#d8dae4" stroke-width="1.57"><text x="0" y="0" font-size="100" font-weight="normal">Irelnad</text></g>
<g transform="translate(117.54,577.39) scale(0.2281,0.2506)" fill="#d8dae4" stroke="#d8dae4" stroke-width="1.46"><text transform="translate(0.0,16)" font-size="100" font-weight="normal">4</text><text transform="translate(50.0,0)" font-size="100" font-weight="normal">8</text><text transform="translate(100.0,0)" font-size="100" font-weight="normal">%</text></g>
<g transform="translate(326.53,521.50) scale(0.2217,0.2029)" fill="#111111" stroke="#111111" stroke-width="1.65"><text x="0" y="0" font-size="100" font-weight="normal">Denmark</text></g>
<g transform="translate(416.44,520.74) scale(0.2652,0.2622)" fill="#d3d5de" stroke="#d3d5de" stroke-width="0.00"><text transform="translate(0.0,16)" font-size="100" font-weight="bold">5</text><text transform="translate(50.0,0)" font-size="100" font-weight="bold">6</text><text transform="translate(100.0,0)" font-size="100" font-weight="bold">%</text></g>
<g transform="translate(707.84,489.49) scale(0.1392,0.1060)" fill="#e6e6e6" stroke="#e6e6e6" stroke-width="0.00"><text transform="translate(0.0,0) scale(1,0.64)" font-size="100" font-weight="normal">2</text><text transform="translate(50.0,0) scale(1,0.64)" font-size="100" font-weight="normal">0</text><text transform="translate(100.0,0)" font-size="100" font-weight="normal">%</text></g>
<g transform="translate(289.69,34.50) scale(0.4028,0.3435)" fill="#000" stroke="#000" stroke-width="0.00"><text x="0" y="0" font-size="100" font-weight="bold">Top Marginal Tax Rates In Europe</text></g>
<g transform="translate(749.63,208.70) scale(0.3838,0.2788)" fill="#000" stroke="#000" stroke-width="0.00"><text x="0" y="0" font-size="100" font-weight="bold">1</text></g>
<g transform="translate(766.97,208.90) scale(0.4833,0.2862)" fill="#000" stroke="#000" stroke-width="0.00"><text x="0" y="0" font-size="100" font-weight="bold">0</text></g>
<g transform="translate(789.39,208.80) scale(0.3309,0.3692)" fill="#000" stroke="#000" stroke-width="0.00"><text x="0" y="0" font-size="100" font-weight="bold">%</text></g>
<g transform="translate(1140.61,208.90) scale(0.4295,0.3708)" fill="#000" stroke="#000" stroke-width="0.00"><text x="0" y="0" font-size="100" font-weight="bold">6</text></g>
<g transform="translate(1162.07,208.90) scale(0.4833,0.2877)" fill="#000" stroke="#000" stroke-width="0.00"><text x="0" y="0" font-size="100" font-weight="bold">0</text></g>
<g transform="translate(1184.73,208.70) scale(0.3272,0.3677)" fill="#000" stroke="#000" stroke-width="0.00"><text x="0" y="0" font-size="100" font-weight="bold">%</text></g>
<g transform="translate(1008.97,260.90) scale(0.3428,0.3415)" fill="#d6d6d6" stroke="#d6d6d6" stroke-width="0.00"><text x="0" y="0" font-size="100" font-weight="normal">No Data</text></g>
</svg></body></html>
